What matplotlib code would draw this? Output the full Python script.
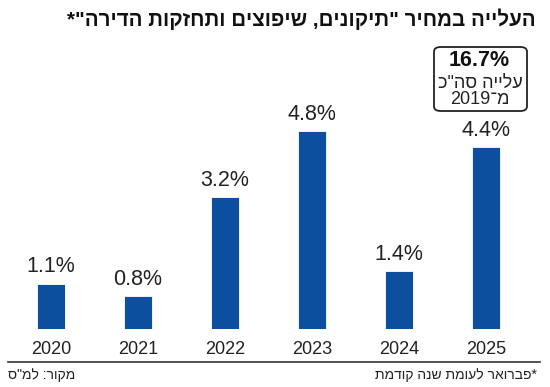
import matplotlib
matplotlib.use("Agg")
import re
import matplotlib.pyplot as plt
from matplotlib.patches import FancyBboxPatch

years = ["2020", "2021", "2022", "2023", "2024", "2025"]
values = [1.1, 0.8, 3.2, 4.8, 1.4, 4.4]

TITLE = 'העלייה במחיר "תיקונים, שיפוצים ותחזקות הדירה"*'
BOX_TOTAL = "16.7%"
BOX_LINE1 = 'עלייה סה"כ'
BOX_LINE2 = "מ־2019"
NOTE = "*פברואר לעומת שנה קודמת"
SOURCE = 'מקור: למ"ס'

BLUE = "#0b4f9e"
FONT = ["Liberation Sans", "DejaVu Sans"]


def rtl(s):
    """Visual order for a Hebrew line: reverse, keeping digit runs intact."""
    r = s[::-1]
    return re.sub(r"[0-9.%]+", lambda m: m.group(0)[::-1], r)


plt.rcParams["font.family"] = FONT
W, H = 550, 387
fig = plt.figure(figsize=(W / 100, H / 100), dpi=100)


def fx(px):
    return px / W


def fy(py):
    return 1 - py / H


# plot area: bar centres at 51 + 87*i px, baseline at y=329 px
left, right = 7.5, 529.5
base, top = 329, 100
ax = fig.add_axes([fx(left), fy(base), fx(right - left), (base - top) / H])
ax.set_xlim(-0.5, 5.5)
ax.set_ylim(0, (base - top) / 41.25)
x = list(range(len(years)))
ax.bar(x, values, width=0.33, color=BLUE, edgecolor="white", linewidth=0.6)
for xi, v in zip(x, values):
    ax.text(xi, v + 0.15, f"{v:.1f}%", ha="center", va="bottom",
            fontsize=15.5, color="#222222")
ax.set_xticks(x)
ax.set_xticklabels(years, fontsize=13, color="#222222")
ax.tick_params(axis="x", length=0, pad=9)
ax.set_yticks([])
for s in ax.spines.values():
    s.set_visible(False)

# title
fig.text(fx(536), fy(19), rtl(TITLE), ha="right", va="center",
         fontsize=14.8, fontweight="bold", color="#111111")

# summary box
box = FancyBboxPatch((fx(434), fy(111)), fx(93), (111 - 47) / H,
                     boxstyle="round,pad=0,rounding_size=0.012",
                     transform=fig.transFigure, fc="white", ec="#222222",
                     lw=1.3)
fig.add_artist(box)
fig.text(fx(479), fy(60), BOX_TOTAL, ha="center", va="center",
         fontsize=15.5, fontweight="bold", color="#111111")
fig.text(fx(480), fy(83), rtl(BOX_LINE1), ha="center", va="center",
         fontsize=13, color="#222222")
fig.text(fx(480), fy(100), rtl(BOX_LINE2), ha="center", va="center",
         fontsize=13, color="#222222")

# separator and footnotes
fig.add_artist(plt.Line2D([fx(8), fx(540)], [fy(362), fy(362)],
                          transform=fig.transFigure, color="#333333", lw=1.2))
fig.text(fx(537), fy(375), rtl(NOTE), ha="right", va="center",
         fontsize=10, color="#222222")
fig.text(fx(8), fy(375), rtl(SOURCE), ha="left", va="center",
         fontsize=10, color="#222222")

fig.savefig("out.png", dpi=100)
